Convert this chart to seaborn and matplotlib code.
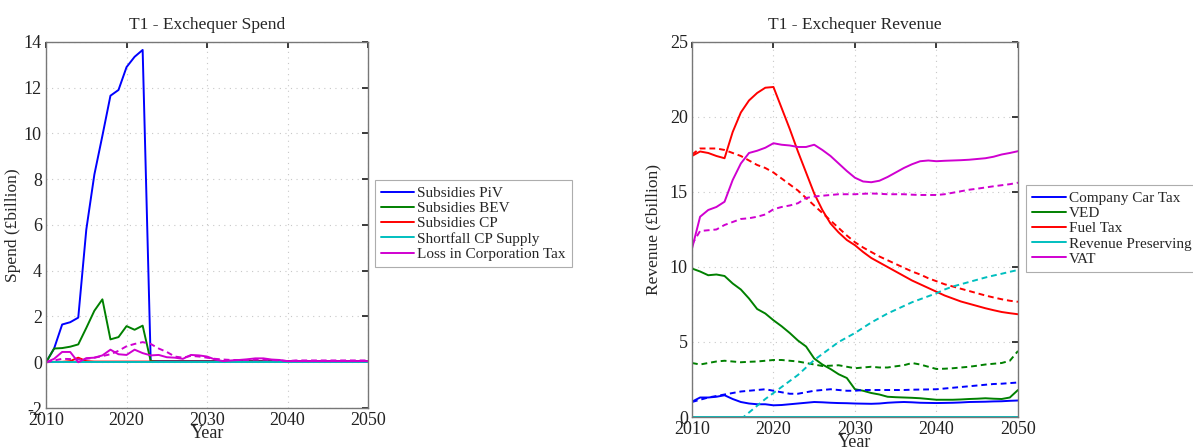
import numpy as np
import pandas as pd
import matplotlib
matplotlib.use("Agg")
import matplotlib.pyplot as plt
import seaborn as sns

# ---------------- data: Exchequer Spend ----------------
years_a = list(range(2010, 2051))
spend_piv = [0, 0.6, 1.65, 1.75, 1.95, 5.8, 8.2, 9.9, 11.65, 11.9, 12.9, 13.35, 13.65, 0.05,
             0.05, 0.05, 0.05, 0.05, 0.05, 0.05, 0.05, 0.05, 0.05, 0.05, 0.05, 0.05, 0.05, 0.05,
             0.05, 0.05, 0.05, 0.05, 0.05, 0.05, 0.05, 0.05, 0.05, 0.05, 0.05, 0.05, 0.05]
spend_bev = [0, 0.6, 0.62, 0.68, 0.78, 1.5, 2.25, 2.75, 1.0, 1.1, 1.58, 1.42, 1.6, 0.05,
             0.03, 0.03, 0.03, 0.03, 0.03, 0.03, 0.03, 0.03, 0.03, 0.03, 0.03, 0.03, 0.03, 0.03,
             0.03, 0.03, 0.03, 0.03, 0.03, 0.03, 0.03, 0.03, 0.03, 0.03, 0.03, 0.03, 0.03]
spend_cp = [0, 0.02, 0.02, 0.05, 0.2, 0.05, 0.03, 0.03, 0.03, 0.03, 0.03, 0.03, 0.03, 0.03,
            0.03, 0.03, 0.03, 0.03, 0.03, 0.03, 0.03, 0.03, 0.03, 0.03, 0.03, 0.03, 0.03, 0.03,
            0.03, 0.03, 0.03, 0.03, 0.03, 0.03, 0.03, 0.03, 0.03, 0.03, 0.03, 0.03, 0.03]
spend_shortfall = [0.0] * 41
spend_corp = [0, 0.15, 0.45, 0.45, 0.0, 0.18, 0.2, 0.3, 0.55, 0.35, 0.32, 0.55, 0.4, 0.3,
              0.32, 0.22, 0.2, 0.15, 0.32, 0.3, 0.25, 0.12, 0.05, 0.08, 0.1, 0.13, 0.17, 0.17,
              0.12, 0.1, 0.05, 0.05, 0.05, 0.05, 0.05, 0.05, 0.05, 0.05, 0.05, 0.05, 0.05]
spend_corp_alt = [0, 0.08, 0.15, 0.14, 0.12, 0.15, 0.2, 0.27, 0.35, 0.5, 0.7, 0.8, 0.88, 0.8,
                  0.6, 0.45, 0.25, 0.2, 0.28, 0.25, 0.2, 0.15, 0.12, 0.1, 0.1, 0.1, 0.12, 0.12,
                  0.1, 0.08, 0.05, 0.08, 0.08, 0.08, 0.08, 0.08, 0.08, 0.08, 0.08, 0.08, 0.08]

# ---------------- data: Exchequer Revenue ----------------
years_b = list(range(2010, 2051))
rev_car = [1.02, 1.3, 1.3, 1.35, 1.45, 1.2, 1.0, 0.9, 0.85, 0.85, 0.78, 0.8, 0.85, 0.9,
           0.95, 1.0, 0.98, 0.95, 0.93, 0.92, 0.9, 0.89, 0.88, 0.9, 0.95, 0.98, 1.0, 0.98,
           0.95, 0.94, 0.93, 0.94, 0.95, 0.97, 1.0, 1.01, 1.02, 1.04, 1.05, 1.08, 1.1]
rev_car_alt = [1.0, 1.15, 1.3, 1.4, 1.5, 1.6, 1.7, 1.75, 1.8, 1.85, 1.75, 1.65, 1.55, 1.55,
               1.65, 1.75, 1.8, 1.85, 1.8, 1.75, 1.75, 1.8, 1.8, 1.8, 1.8, 1.8, 1.8, 1.82,
               1.83, 1.84, 1.85, 1.9, 1.95, 2.0, 2.05, 2.1, 2.15, 2.2, 2.22, 2.26, 2.3]
rev_ved = [9.9, 9.7, 9.45, 9.5, 9.4, 8.9, 8.5, 7.9, 7.2, 6.9, 6.45, 6.05, 5.6, 5.1,
           4.7, 3.9, 3.5, 3.2, 2.85, 2.6, 1.85, 1.75, 1.6, 1.5, 1.35, 1.32, 1.3, 1.28,
           1.25, 1.2, 1.15, 1.15, 1.15, 1.17, 1.2, 1.22, 1.25, 1.22, 1.2, 1.3, 1.8]
rev_ved_alt = [3.6, 3.5, 3.6, 3.7, 3.75, 3.7, 3.65, 3.68, 3.7, 3.75, 3.8, 3.8, 3.75, 3.7,
               3.6, 3.5, 3.4, 3.42, 3.45, 3.35, 3.25, 3.3, 3.35, 3.3, 3.3, 3.38, 3.45, 3.6,
               3.5, 3.35, 3.2, 3.22, 3.25, 3.3, 3.35, 3.42, 3.5, 3.55, 3.6, 3.75, 4.4]
rev_fuel = [17.4, 17.7, 17.6, 17.4, 17.25, 19.0, 20.3, 21.1, 21.6, 21.95, 22.0, 20.6, 19.2,
            17.7, 16.3, 14.9, 13.8, 12.9, 12.3, 11.8, 11.45, 11.0, 10.6, 10.3, 10.0, 9.7,
            9.4, 9.1, 8.85, 8.6, 8.35, 8.1, 7.9, 7.7, 7.55, 7.4, 7.25, 7.12, 7.0, 6.92, 6.85]
rev_fuel_alt = [17.5, 17.9, 17.9, 17.9, 17.8, 17.6, 17.4, 17.1, 16.8, 16.6, 16.3, 15.9, 15.5,
                15.1, 14.6, 14.1, 13.6, 13.1, 12.6, 12.1, 11.65, 11.3, 11.0, 10.7, 10.45,
                10.2, 9.95, 9.7, 9.5, 9.25, 9.05, 8.85, 8.7, 8.55, 8.4, 8.25, 8.1, 7.97,
                7.85, 7.75, 7.68]
rev_preserving = [0.0] * 41
rev_preserving_alt = [np.nan] * 6 + [-0.15, 0.3, 0.75, 1.2, 1.6, 2.0, 2.4, 2.8, 3.3, 3.8,
                      4.2, 4.6, 5.0, 5.3, 5.6, 5.95, 6.3, 6.6, 6.9, 7.15, 7.4, 7.65, 7.85,
                      8.05, 8.25, 8.5, 8.7, 8.85, 9.0, 9.15, 9.3, 9.43, 9.55, 9.68, 9.8]
rev_vat = [11.2, 13.35, 13.8, 14.0, 14.35, 15.8, 16.9, 17.6, 17.75, 17.95, 18.25, 18.15,
           18.1, 18.0, 18.0, 18.15, 17.8, 17.4, 16.9, 16.4, 15.95, 15.7, 15.65, 15.75, 16.0,
           16.3, 16.6, 16.85, 17.05, 17.1, 17.05, 17.08, 17.1, 17.12, 17.15, 17.2, 17.25,
           17.35, 17.5, 17.6, 17.72]
rev_vat_alt = [11.5, 12.4, 12.45, 12.5, 12.8, 13.0, 13.2, 13.25, 13.35, 13.5, 13.85, 14.0,
               14.1, 14.25, 14.6, 14.7, 14.75, 14.8, 14.85, 14.85, 14.85, 14.88, 14.9, 14.88,
               14.85, 14.85, 14.85, 14.82, 14.8, 14.8, 14.8, 14.85, 14.95, 15.05, 15.15,
               15.22, 15.3, 15.38, 15.45, 15.52, 15.62]

spend_labels = ["Subsidies PiV", "Subsidies BEV", "Subsidies CP",
                "Shortfall CP Supply", "Loss in Corporation Tax"]
rev_labels = ["Company Car Tax", "VED", "Fuel Tax", "Revenue Preserving Tax", "VAT"]

# ---------------- style ----------------
sns.set_theme(style="white")
plt.rcParams["font.family"] = ["Liberation Serif", "DejaVu Serif"]
plt.rcParams["axes.unicode_minus"] = False

BLUE, GREEN, RED, CYAN, MAG = "#0000FF", "#008000", "#FF0000", "#00BFBF", "#D000D0"

fig = plt.figure(figsize=(11.93, 4.47), dpi=100)
ax1 = fig.add_axes([0.0386, 0.0872, 0.2699, 0.819])
ax2 = fig.add_axes([0.580, 0.0671, 0.2733, 0.839])

def draw(ax, x, y, color, ls, label=None):
    sns.lineplot(x=x, y=y, ax=ax, color=color, linestyle=ls, linewidth=1.4,
                 label=label, legend=False)

# Spend
draw(ax1, years_a, spend_piv, BLUE, "-", spend_labels[0])
draw(ax1, years_a, spend_bev, GREEN, "-", spend_labels[1])
draw(ax1, years_a, spend_cp, RED, "-", spend_labels[2])
draw(ax1, years_a, spend_shortfall, CYAN, "-", spend_labels[3])
draw(ax1, years_a, spend_corp, MAG, "-", spend_labels[4])
draw(ax1, years_a, spend_corp_alt, MAG, (0, (3, 2)))

# Revenue
draw(ax2, years_b, rev_car, BLUE, "-", rev_labels[0])
draw(ax2, years_b, rev_ved, GREEN, "-", rev_labels[1])
draw(ax2, years_b, rev_fuel, RED, "-", rev_labels[2])
draw(ax2, years_b, rev_preserving, CYAN, "-", rev_labels[3])
draw(ax2, years_b, rev_vat, MAG, "-", rev_labels[4])
draw(ax2, years_b, rev_car_alt, BLUE, (0, (3, 2)))
draw(ax2, years_b, rev_ved_alt, GREEN, (0, (3, 2)))
draw(ax2, years_b, rev_fuel_alt, RED, (0, (3, 2)))
draw(ax2, years_b, rev_preserving_alt, CYAN, (0, (3, 2)))
draw(ax2, years_b, rev_vat_alt, MAG, (0, (3, 2)))

for ax, ylim, yt, title, ylab, lp in [
        (ax1, (-2, 14), np.arange(-2, 15, 2), "T1 - Exchequer Spend", "Spend (£billion)", 2),
        (ax2, (0, 25), np.arange(0, 26, 5), "T1 - Exchequer Revenue", "Revenue (£billion)", 6)]:
    ax.set_xlim(2010, 2050)
    ax.set_ylim(*ylim)
    ax.set_xticks([2010, 2020, 2030, 2040, 2050])
    ax.set_yticks(yt)
    ax.grid(True, linestyle=(0, (1, 4)), color="#c8c8c8", linewidth=0.8)
    ax.tick_params(direction="in", top=True, right=True, length=4, labelsize=13,
                   colors="#222222", pad=3)
    for s in ax.spines.values():
        s.set_color("#777777")
        s.set_linewidth(1.0)
    ax.set_title(title, fontsize=12.5, pad=9)
    ax.set_xlabel("Year", fontsize=13, labelpad=-3)
    ax.set_ylabel(ylab, fontsize=12.5, labelpad=lp)

leg_kw = dict(loc="upper left", bbox_transform=fig.transFigure, frameon=True,
              fancybox=False, edgecolor="#999999", fontsize=11, handlelength=2.2,
              handletextpad=0.2, labelspacing=0.1, borderpad=0.4, borderaxespad=0)
l1 = ax1.legend(bbox_to_anchor=(0.314, 0.597), **leg_kw)
l2 = ax2.legend(bbox_to_anchor=(0.860, 0.586), **leg_kw)
for l in (l1, l2):
    l.get_frame().set_linewidth(0.8)

fig.savefig("out.png", dpi=100)
